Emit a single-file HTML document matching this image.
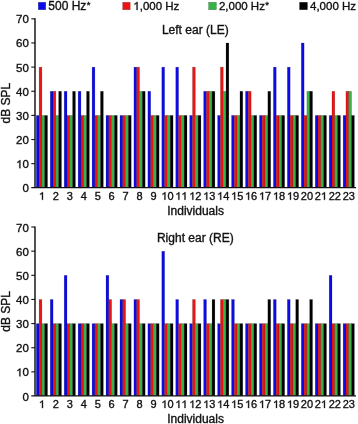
<!DOCTYPE html>
<html><head><meta charset="utf-8"><style>
html,body{margin:0;padding:0;background:#fff;width:358px;height:424px;overflow:hidden}
svg{display:block;will-change:transform;filter:blur(0.3px)}
text{font-family:"Liberation Sans",sans-serif;fill:#111;stroke:#111;stroke-width:0.35px}
.yl{font-size:11.5px}
.xl{font-size:11px}
.t12{font-size:12px}
.lg{font-size:11.5px}
.g1{fill:#111;stroke:#111;stroke-width:0.35px;vector-effect:non-scaling-stroke}
text{font-kerning:none}
.bar{stroke:#000;stroke-opacity:0.3;stroke-width:0.5px}
</style></head><body>
<svg width="358" height="424" viewBox="0 0 358 424">
<rect width="358" height="424" fill="#fff"/>

<rect x="38.25" y="2.25" width="7.5" height="7.5" fill="#0b0be8" class="bar"/>
<text x="48.3" y="9.9" class="lg" style="font-size:12px">500 Hz<tspan style="font-size:9.5px" dx="0.3" dy="-2.0">*</tspan></text>
<rect x="122.65" y="2.25" width="7.6" height="7.5" fill="#ec1313" class="bar"/>
<path d="M763 0H583V1147C540 1106 483 1065 413 1024C343 983 280 952 223 931V1105C323 1152 410 1209 485 1276C560 1343 613 1378 644 1409H763Z" transform="translate(133.30 9.90) scale(0.00562 -0.00562)" class="g1"/>
<text x="139.70" y="9.90" style="font-size:11.5px">,000 Hz</text>
<rect x="208.55" y="2.25" width="7.9" height="7.5" fill="#36b347" class="bar"/>
<text x="218.9" y="9.9" class="lg">2,000 Hz<tspan style="font-size:9.5px" dx="0.3" dy="-2.0">*</tspan></text>
<rect x="299.5" y="2.25" width="8.0" height="7.5" fill="#000000" class="bar"/>
<text x="310.0" y="9.9" class="lg">4,000 Hz</text>

<rect x="36.30" y="115.43" width="2.81" height="72.17" fill="#0b0be8" class="bar"/>
<rect x="39.10" y="67.15" width="2.81" height="120.45" fill="#ec1313" class="bar"/>
<rect x="41.91" y="115.43" width="2.81" height="72.17" fill="#36b347" class="bar"/>
<rect x="44.71" y="115.43" width="2.81" height="72.17" fill="#000000" class="bar"/>
<rect x="50.25" y="91.29" width="2.81" height="96.31" fill="#0b0be8" class="bar"/>
<rect x="53.05" y="91.29" width="2.81" height="96.31" fill="#ec1313" class="bar"/>
<rect x="55.86" y="115.43" width="2.81" height="72.17" fill="#36b347" class="bar"/>
<rect x="58.66" y="91.29" width="2.81" height="96.31" fill="#000000" class="bar"/>
<rect x="64.19" y="91.29" width="2.81" height="96.31" fill="#0b0be8" class="bar"/>
<rect x="67.00" y="115.43" width="2.81" height="72.17" fill="#ec1313" class="bar"/>
<rect x="69.80" y="115.43" width="2.81" height="72.17" fill="#36b347" class="bar"/>
<rect x="72.61" y="91.29" width="2.81" height="96.31" fill="#000000" class="bar"/>
<rect x="78.14" y="91.29" width="2.81" height="96.31" fill="#0b0be8" class="bar"/>
<rect x="80.95" y="115.43" width="2.81" height="72.17" fill="#ec1313" class="bar"/>
<rect x="83.75" y="115.43" width="2.81" height="72.17" fill="#36b347" class="bar"/>
<rect x="86.56" y="91.29" width="2.81" height="96.31" fill="#000000" class="bar"/>
<rect x="92.09" y="67.15" width="2.81" height="120.45" fill="#0b0be8" class="bar"/>
<rect x="94.89" y="115.43" width="2.81" height="72.17" fill="#ec1313" class="bar"/>
<rect x="97.70" y="115.43" width="2.81" height="72.17" fill="#36b347" class="bar"/>
<rect x="100.50" y="91.29" width="2.81" height="96.31" fill="#000000" class="bar"/>
<rect x="106.03" y="115.43" width="2.81" height="72.17" fill="#0b0be8" class="bar"/>
<rect x="108.84" y="115.43" width="2.81" height="72.17" fill="#ec1313" class="bar"/>
<rect x="111.64" y="115.43" width="2.81" height="72.17" fill="#36b347" class="bar"/>
<rect x="114.45" y="115.43" width="2.81" height="72.17" fill="#000000" class="bar"/>
<rect x="119.98" y="115.43" width="2.81" height="72.17" fill="#0b0be8" class="bar"/>
<rect x="122.79" y="115.43" width="2.81" height="72.17" fill="#ec1313" class="bar"/>
<rect x="125.59" y="115.43" width="2.81" height="72.17" fill="#36b347" class="bar"/>
<rect x="128.40" y="115.43" width="2.81" height="72.17" fill="#000000" class="bar"/>
<rect x="133.93" y="67.15" width="2.81" height="120.45" fill="#0b0be8" class="bar"/>
<rect x="136.73" y="67.15" width="2.81" height="120.45" fill="#ec1313" class="bar"/>
<rect x="139.54" y="91.29" width="2.81" height="96.31" fill="#36b347" class="bar"/>
<rect x="142.34" y="91.29" width="2.81" height="96.31" fill="#000000" class="bar"/>
<rect x="147.88" y="91.29" width="2.81" height="96.31" fill="#0b0be8" class="bar"/>
<rect x="150.68" y="115.43" width="2.81" height="72.17" fill="#ec1313" class="bar"/>
<rect x="153.49" y="115.43" width="2.81" height="72.17" fill="#36b347" class="bar"/>
<rect x="156.29" y="115.43" width="2.81" height="72.17" fill="#000000" class="bar"/>
<rect x="161.82" y="67.15" width="2.81" height="120.45" fill="#0b0be8" class="bar"/>
<rect x="164.63" y="115.43" width="2.81" height="72.17" fill="#ec1313" class="bar"/>
<rect x="167.43" y="115.43" width="2.81" height="72.17" fill="#36b347" class="bar"/>
<rect x="170.24" y="115.43" width="2.81" height="72.17" fill="#000000" class="bar"/>
<rect x="175.77" y="67.15" width="2.81" height="120.45" fill="#0b0be8" class="bar"/>
<rect x="178.57" y="115.43" width="2.81" height="72.17" fill="#ec1313" class="bar"/>
<rect x="181.38" y="115.43" width="2.81" height="72.17" fill="#36b347" class="bar"/>
<rect x="184.18" y="115.43" width="2.81" height="72.17" fill="#000000" class="bar"/>
<rect x="189.72" y="115.43" width="2.81" height="72.17" fill="#0b0be8" class="bar"/>
<rect x="192.52" y="67.15" width="2.81" height="120.45" fill="#ec1313" class="bar"/>
<rect x="195.33" y="115.43" width="2.81" height="72.17" fill="#36b347" class="bar"/>
<rect x="198.13" y="115.43" width="2.81" height="72.17" fill="#000000" class="bar"/>
<rect x="203.66" y="91.29" width="2.81" height="96.31" fill="#0b0be8" class="bar"/>
<rect x="206.47" y="91.29" width="2.81" height="96.31" fill="#ec1313" class="bar"/>
<rect x="209.27" y="91.29" width="2.81" height="96.31" fill="#36b347" class="bar"/>
<rect x="212.08" y="91.29" width="2.81" height="96.31" fill="#000000" class="bar"/>
<rect x="217.61" y="115.43" width="2.81" height="72.17" fill="#0b0be8" class="bar"/>
<rect x="220.42" y="67.15" width="2.81" height="120.45" fill="#ec1313" class="bar"/>
<rect x="223.22" y="91.29" width="2.81" height="96.31" fill="#36b347" class="bar"/>
<rect x="226.03" y="43.01" width="2.81" height="144.59" fill="#000000" class="bar"/>
<rect x="231.56" y="115.43" width="2.81" height="72.17" fill="#0b0be8" class="bar"/>
<rect x="234.36" y="115.43" width="2.81" height="72.17" fill="#ec1313" class="bar"/>
<rect x="237.17" y="115.43" width="2.81" height="72.17" fill="#36b347" class="bar"/>
<rect x="239.97" y="91.29" width="2.81" height="96.31" fill="#000000" class="bar"/>
<rect x="245.50" y="91.29" width="2.81" height="96.31" fill="#0b0be8" class="bar"/>
<rect x="248.31" y="91.29" width="2.81" height="96.31" fill="#ec1313" class="bar"/>
<rect x="251.12" y="115.43" width="2.81" height="72.17" fill="#36b347" class="bar"/>
<rect x="253.92" y="115.43" width="2.81" height="72.17" fill="#000000" class="bar"/>
<rect x="259.45" y="115.43" width="2.81" height="72.17" fill="#0b0be8" class="bar"/>
<rect x="262.26" y="115.43" width="2.81" height="72.17" fill="#ec1313" class="bar"/>
<rect x="265.06" y="115.43" width="2.81" height="72.17" fill="#36b347" class="bar"/>
<rect x="267.87" y="91.29" width="2.81" height="96.31" fill="#000000" class="bar"/>
<rect x="273.40" y="67.15" width="2.81" height="120.45" fill="#0b0be8" class="bar"/>
<rect x="276.20" y="115.43" width="2.81" height="72.17" fill="#ec1313" class="bar"/>
<rect x="279.01" y="115.43" width="2.81" height="72.17" fill="#36b347" class="bar"/>
<rect x="281.81" y="115.43" width="2.81" height="72.17" fill="#000000" class="bar"/>
<rect x="287.35" y="67.15" width="2.81" height="120.45" fill="#0b0be8" class="bar"/>
<rect x="290.15" y="115.43" width="2.81" height="72.17" fill="#ec1313" class="bar"/>
<rect x="292.96" y="115.43" width="2.81" height="72.17" fill="#36b347" class="bar"/>
<rect x="295.76" y="115.43" width="2.81" height="72.17" fill="#000000" class="bar"/>
<rect x="301.29" y="43.01" width="2.81" height="144.59" fill="#0b0be8" class="bar"/>
<rect x="304.10" y="115.43" width="2.81" height="72.17" fill="#ec1313" class="bar"/>
<rect x="306.90" y="91.29" width="2.81" height="96.31" fill="#36b347" class="bar"/>
<rect x="309.71" y="91.29" width="2.81" height="96.31" fill="#000000" class="bar"/>
<rect x="315.24" y="115.43" width="2.81" height="72.17" fill="#0b0be8" class="bar"/>
<rect x="318.05" y="115.43" width="2.81" height="72.17" fill="#ec1313" class="bar"/>
<rect x="320.85" y="115.43" width="2.81" height="72.17" fill="#36b347" class="bar"/>
<rect x="323.66" y="115.43" width="2.81" height="72.17" fill="#000000" class="bar"/>
<rect x="329.19" y="115.43" width="2.81" height="72.17" fill="#0b0be8" class="bar"/>
<rect x="331.99" y="91.29" width="2.81" height="96.31" fill="#ec1313" class="bar"/>
<rect x="334.80" y="115.43" width="2.81" height="72.17" fill="#36b347" class="bar"/>
<rect x="337.60" y="115.43" width="2.81" height="72.17" fill="#000000" class="bar"/>
<rect x="343.13" y="115.43" width="2.81" height="72.17" fill="#0b0be8" class="bar"/>
<rect x="345.94" y="91.29" width="2.81" height="96.31" fill="#ec1313" class="bar"/>
<rect x="348.74" y="91.29" width="2.81" height="96.31" fill="#36b347" class="bar"/>
<rect x="351.55" y="115.43" width="2.81" height="72.17" fill="#000000" class="bar"/>
<line x1="35.0" y1="18.22" x2="35.0" y2="187.60" stroke="#111" stroke-width="1.45"/>
<line x1="31.3" y1="187.60" x2="356" y2="187.60" stroke="#111" stroke-width="1.25"/>
<line x1="31.3" y1="163.66" x2="35.0" y2="163.66" stroke="#111" stroke-width="1.1"/>
<line x1="31.3" y1="139.52" x2="35.0" y2="139.52" stroke="#111" stroke-width="1.1"/>
<line x1="31.3" y1="115.38" x2="35.0" y2="115.38" stroke="#111" stroke-width="1.1"/>
<line x1="31.3" y1="91.24" x2="35.0" y2="91.24" stroke="#111" stroke-width="1.1"/>
<line x1="31.3" y1="67.10" x2="35.0" y2="67.10" stroke="#111" stroke-width="1.1"/>
<line x1="31.3" y1="42.96" x2="35.0" y2="42.96" stroke="#111" stroke-width="1.1"/>
<line x1="31.3" y1="18.82" x2="35.0" y2="18.82" stroke="#111" stroke-width="1.1"/>
<text x="22.50" y="192.30" style="font-size:11.5px">0</text>
<path d="M763 0H583V1147C540 1106 483 1065 413 1024C343 983 280 952 223 931V1105C323 1152 410 1209 485 1276C560 1343 613 1378 644 1409H763Z" transform="translate(16.11 168.16) scale(0.00562 -0.00562)" class="g1"/>
<text x="22.50" y="168.16" style="font-size:11.5px">0</text>
<text x="16.11" y="144.02" style="font-size:11.5px">20</text>
<text x="16.11" y="119.88" style="font-size:11.5px">30</text>
<text x="16.11" y="95.74" style="font-size:11.5px">40</text>
<text x="16.11" y="71.60" style="font-size:11.5px">50</text>
<text x="16.11" y="47.46" style="font-size:11.5px">60</text>
<text x="16.11" y="23.32" style="font-size:11.5px">70</text>
<path d="M763 0H583V1147C540 1106 483 1065 413 1024C343 983 280 952 223 931V1105C323 1152 410 1209 485 1276C560 1343 613 1378 644 1409H763Z" transform="translate(38.85 199.80) scale(0.00537 -0.00537)" class="g1"/>
<text x="52.80" y="199.80" style="font-size:11px">2</text>
<text x="66.75" y="199.80" style="font-size:11px">3</text>
<text x="80.69" y="199.80" style="font-size:11px">4</text>
<text x="94.64" y="199.80" style="font-size:11px">5</text>
<text x="108.59" y="199.80" style="font-size:11px">6</text>
<text x="122.53" y="199.80" style="font-size:11px">7</text>
<text x="136.48" y="199.80" style="font-size:11px">8</text>
<text x="150.43" y="199.80" style="font-size:11px">9</text>
<path d="M763 0H583V1147C540 1106 483 1065 413 1024C343 983 280 952 223 931V1105C323 1152 410 1209 485 1276C560 1343 613 1378 644 1409H763Z" transform="translate(161.32 199.80) scale(0.00537 -0.00537)" class="g1"/>
<text x="167.43" y="199.80" style="font-size:11px">0</text>
<path d="M763 0H583V1147C540 1106 483 1065 413 1024C343 983 280 952 223 931V1105C323 1152 410 1209 485 1276C560 1343 613 1378 644 1409H763Z" transform="translate(175.26 199.80) scale(0.00537 -0.00537)" class="g1"/>
<path d="M763 0H583V1147C540 1106 483 1065 413 1024C343 983 280 952 223 931V1105C323 1152 410 1209 485 1276C560 1343 613 1378 644 1409H763Z" transform="translate(181.38 199.80) scale(0.00537 -0.00537)" class="g1"/>
<path d="M763 0H583V1147C540 1106 483 1065 413 1024C343 983 280 952 223 931V1105C323 1152 410 1209 485 1276C560 1343 613 1378 644 1409H763Z" transform="translate(189.21 199.80) scale(0.00537 -0.00537)" class="g1"/>
<text x="195.33" y="199.80" style="font-size:11px">2</text>
<path d="M763 0H583V1147C540 1106 483 1065 413 1024C343 983 280 952 223 931V1105C323 1152 410 1209 485 1276C560 1343 613 1378 644 1409H763Z" transform="translate(203.16 199.80) scale(0.00537 -0.00537)" class="g1"/>
<text x="209.27" y="199.80" style="font-size:11px">3</text>
<path d="M763 0H583V1147C540 1106 483 1065 413 1024C343 983 280 952 223 931V1105C323 1152 410 1209 485 1276C560 1343 613 1378 644 1409H763Z" transform="translate(217.10 199.80) scale(0.00537 -0.00537)" class="g1"/>
<text x="223.22" y="199.80" style="font-size:11px">4</text>
<path d="M763 0H583V1147C540 1106 483 1065 413 1024C343 983 280 952 223 931V1105C323 1152 410 1209 485 1276C560 1343 613 1378 644 1409H763Z" transform="translate(231.05 199.80) scale(0.00537 -0.00537)" class="g1"/>
<text x="237.17" y="199.80" style="font-size:11px">5</text>
<path d="M763 0H583V1147C540 1106 483 1065 413 1024C343 983 280 952 223 931V1105C323 1152 410 1209 485 1276C560 1343 613 1378 644 1409H763Z" transform="translate(245.00 199.80) scale(0.00537 -0.00537)" class="g1"/>
<text x="251.12" y="199.80" style="font-size:11px">6</text>
<path d="M763 0H583V1147C540 1106 483 1065 413 1024C343 983 280 952 223 931V1105C323 1152 410 1209 485 1276C560 1343 613 1378 644 1409H763Z" transform="translate(258.94 199.80) scale(0.00537 -0.00537)" class="g1"/>
<text x="265.06" y="199.80" style="font-size:11px">7</text>
<path d="M763 0H583V1147C540 1106 483 1065 413 1024C343 983 280 952 223 931V1105C323 1152 410 1209 485 1276C560 1343 613 1378 644 1409H763Z" transform="translate(272.89 199.80) scale(0.00537 -0.00537)" class="g1"/>
<text x="279.01" y="199.80" style="font-size:11px">8</text>
<path d="M763 0H583V1147C540 1106 483 1065 413 1024C343 983 280 952 223 931V1105C323 1152 410 1209 485 1276C560 1343 613 1378 644 1409H763Z" transform="translate(286.84 199.80) scale(0.00537 -0.00537)" class="g1"/>
<text x="292.96" y="199.80" style="font-size:11px">9</text>
<text x="300.79" y="199.80" style="font-size:11px">20</text>
<text x="314.73" y="199.80" style="font-size:11px">2</text>
<path d="M763 0H583V1147C540 1106 483 1065 413 1024C343 983 280 952 223 931V1105C323 1152 410 1209 485 1276C560 1343 613 1378 644 1409H763Z" transform="translate(320.85 199.80) scale(0.00537 -0.00537)" class="g1"/>
<text x="328.68" y="199.80" style="font-size:11px">22</text>
<text x="342.63" y="199.80" style="font-size:11px">23</text>
<text x="195.6" y="215.20" text-anchor="middle" class="t12">Individuals</text>
<text transform="translate(10.0 103.11) rotate(-90)" x="0" y="0" text-anchor="middle" class="t12">dB SPL</text>
<text x="195.3" y="33.70" text-anchor="middle" class="t12">Left ear (LE)</text>
<rect x="36.30" y="323.63" width="2.81" height="72.17" fill="#0b0be8" class="bar"/>
<rect x="39.10" y="299.49" width="2.81" height="96.31" fill="#ec1313" class="bar"/>
<rect x="41.91" y="323.63" width="2.81" height="72.17" fill="#36b347" class="bar"/>
<rect x="44.71" y="323.63" width="2.81" height="72.17" fill="#000000" class="bar"/>
<rect x="50.25" y="299.49" width="2.81" height="96.31" fill="#0b0be8" class="bar"/>
<rect x="53.05" y="323.63" width="2.81" height="72.17" fill="#ec1313" class="bar"/>
<rect x="55.86" y="323.63" width="2.81" height="72.17" fill="#36b347" class="bar"/>
<rect x="58.66" y="323.63" width="2.81" height="72.17" fill="#000000" class="bar"/>
<rect x="64.19" y="275.35" width="2.81" height="120.45" fill="#0b0be8" class="bar"/>
<rect x="67.00" y="323.63" width="2.81" height="72.17" fill="#ec1313" class="bar"/>
<rect x="69.80" y="323.63" width="2.81" height="72.17" fill="#36b347" class="bar"/>
<rect x="72.61" y="323.63" width="2.81" height="72.17" fill="#000000" class="bar"/>
<rect x="78.14" y="323.63" width="2.81" height="72.17" fill="#0b0be8" class="bar"/>
<rect x="80.95" y="323.63" width="2.81" height="72.17" fill="#ec1313" class="bar"/>
<rect x="83.75" y="323.63" width="2.81" height="72.17" fill="#36b347" class="bar"/>
<rect x="86.56" y="323.63" width="2.81" height="72.17" fill="#000000" class="bar"/>
<rect x="92.09" y="323.63" width="2.81" height="72.17" fill="#0b0be8" class="bar"/>
<rect x="94.89" y="323.63" width="2.81" height="72.17" fill="#ec1313" class="bar"/>
<rect x="97.70" y="323.63" width="2.81" height="72.17" fill="#36b347" class="bar"/>
<rect x="100.50" y="323.63" width="2.81" height="72.17" fill="#000000" class="bar"/>
<rect x="106.03" y="275.35" width="2.81" height="120.45" fill="#0b0be8" class="bar"/>
<rect x="108.84" y="299.49" width="2.81" height="96.31" fill="#ec1313" class="bar"/>
<rect x="111.64" y="323.63" width="2.81" height="72.17" fill="#36b347" class="bar"/>
<rect x="114.45" y="323.63" width="2.81" height="72.17" fill="#000000" class="bar"/>
<rect x="119.98" y="299.49" width="2.81" height="96.31" fill="#0b0be8" class="bar"/>
<rect x="122.79" y="299.49" width="2.81" height="96.31" fill="#ec1313" class="bar"/>
<rect x="125.59" y="323.63" width="2.81" height="72.17" fill="#36b347" class="bar"/>
<rect x="128.40" y="323.63" width="2.81" height="72.17" fill="#000000" class="bar"/>
<rect x="133.93" y="299.49" width="2.81" height="96.31" fill="#0b0be8" class="bar"/>
<rect x="136.73" y="299.49" width="2.81" height="96.31" fill="#ec1313" class="bar"/>
<rect x="139.54" y="323.63" width="2.81" height="72.17" fill="#36b347" class="bar"/>
<rect x="142.34" y="323.63" width="2.81" height="72.17" fill="#000000" class="bar"/>
<rect x="147.88" y="323.63" width="2.81" height="72.17" fill="#0b0be8" class="bar"/>
<rect x="150.68" y="323.63" width="2.81" height="72.17" fill="#ec1313" class="bar"/>
<rect x="153.49" y="323.63" width="2.81" height="72.17" fill="#36b347" class="bar"/>
<rect x="156.29" y="323.63" width="2.81" height="72.17" fill="#000000" class="bar"/>
<rect x="161.82" y="251.21" width="2.81" height="144.59" fill="#0b0be8" class="bar"/>
<rect x="164.63" y="323.63" width="2.81" height="72.17" fill="#ec1313" class="bar"/>
<rect x="167.43" y="323.63" width="2.81" height="72.17" fill="#36b347" class="bar"/>
<rect x="170.24" y="323.63" width="2.81" height="72.17" fill="#000000" class="bar"/>
<rect x="175.77" y="299.49" width="2.81" height="96.31" fill="#0b0be8" class="bar"/>
<rect x="178.57" y="323.63" width="2.81" height="72.17" fill="#ec1313" class="bar"/>
<rect x="181.38" y="323.63" width="2.81" height="72.17" fill="#36b347" class="bar"/>
<rect x="184.18" y="323.63" width="2.81" height="72.17" fill="#000000" class="bar"/>
<rect x="189.72" y="323.63" width="2.81" height="72.17" fill="#0b0be8" class="bar"/>
<rect x="192.52" y="299.49" width="2.81" height="96.31" fill="#ec1313" class="bar"/>
<rect x="195.33" y="323.63" width="2.81" height="72.17" fill="#36b347" class="bar"/>
<rect x="198.13" y="323.63" width="2.81" height="72.17" fill="#000000" class="bar"/>
<rect x="203.66" y="299.49" width="2.81" height="96.31" fill="#0b0be8" class="bar"/>
<rect x="206.47" y="323.63" width="2.81" height="72.17" fill="#ec1313" class="bar"/>
<rect x="209.27" y="323.63" width="2.81" height="72.17" fill="#36b347" class="bar"/>
<rect x="212.08" y="299.49" width="2.81" height="96.31" fill="#000000" class="bar"/>
<rect x="217.61" y="323.63" width="2.81" height="72.17" fill="#0b0be8" class="bar"/>
<rect x="220.42" y="299.49" width="2.81" height="96.31" fill="#ec1313" class="bar"/>
<rect x="223.22" y="299.49" width="2.81" height="96.31" fill="#36b347" class="bar"/>
<rect x="226.03" y="299.49" width="2.81" height="96.31" fill="#000000" class="bar"/>
<rect x="231.56" y="299.49" width="2.81" height="96.31" fill="#0b0be8" class="bar"/>
<rect x="234.36" y="323.63" width="2.81" height="72.17" fill="#ec1313" class="bar"/>
<rect x="237.17" y="323.63" width="2.81" height="72.17" fill="#36b347" class="bar"/>
<rect x="239.97" y="323.63" width="2.81" height="72.17" fill="#000000" class="bar"/>
<rect x="245.50" y="323.63" width="2.81" height="72.17" fill="#0b0be8" class="bar"/>
<rect x="248.31" y="323.63" width="2.81" height="72.17" fill="#ec1313" class="bar"/>
<rect x="251.12" y="323.63" width="2.81" height="72.17" fill="#36b347" class="bar"/>
<rect x="253.92" y="323.63" width="2.81" height="72.17" fill="#000000" class="bar"/>
<rect x="259.45" y="323.63" width="2.81" height="72.17" fill="#0b0be8" class="bar"/>
<rect x="262.26" y="323.63" width="2.81" height="72.17" fill="#ec1313" class="bar"/>
<rect x="265.06" y="323.63" width="2.81" height="72.17" fill="#36b347" class="bar"/>
<rect x="267.87" y="299.49" width="2.81" height="96.31" fill="#000000" class="bar"/>
<rect x="273.40" y="299.49" width="2.81" height="96.31" fill="#0b0be8" class="bar"/>
<rect x="276.20" y="323.63" width="2.81" height="72.17" fill="#ec1313" class="bar"/>
<rect x="279.01" y="323.63" width="2.81" height="72.17" fill="#36b347" class="bar"/>
<rect x="281.81" y="323.63" width="2.81" height="72.17" fill="#000000" class="bar"/>
<rect x="287.35" y="299.49" width="2.81" height="96.31" fill="#0b0be8" class="bar"/>
<rect x="290.15" y="323.63" width="2.81" height="72.17" fill="#ec1313" class="bar"/>
<rect x="292.96" y="323.63" width="2.81" height="72.17" fill="#36b347" class="bar"/>
<rect x="295.76" y="299.49" width="2.81" height="96.31" fill="#000000" class="bar"/>
<rect x="301.29" y="323.63" width="2.81" height="72.17" fill="#0b0be8" class="bar"/>
<rect x="304.10" y="323.63" width="2.81" height="72.17" fill="#ec1313" class="bar"/>
<rect x="306.90" y="323.63" width="2.81" height="72.17" fill="#36b347" class="bar"/>
<rect x="309.71" y="299.49" width="2.81" height="96.31" fill="#000000" class="bar"/>
<rect x="315.24" y="323.63" width="2.81" height="72.17" fill="#0b0be8" class="bar"/>
<rect x="318.05" y="323.63" width="2.81" height="72.17" fill="#ec1313" class="bar"/>
<rect x="320.85" y="323.63" width="2.81" height="72.17" fill="#36b347" class="bar"/>
<rect x="323.66" y="323.63" width="2.81" height="72.17" fill="#000000" class="bar"/>
<rect x="329.19" y="275.35" width="2.81" height="120.45" fill="#0b0be8" class="bar"/>
<rect x="331.99" y="323.63" width="2.81" height="72.17" fill="#ec1313" class="bar"/>
<rect x="334.80" y="323.63" width="2.81" height="72.17" fill="#36b347" class="bar"/>
<rect x="337.60" y="323.63" width="2.81" height="72.17" fill="#000000" class="bar"/>
<rect x="343.13" y="323.63" width="2.81" height="72.17" fill="#0b0be8" class="bar"/>
<rect x="345.94" y="323.63" width="2.81" height="72.17" fill="#ec1313" class="bar"/>
<rect x="348.74" y="323.63" width="2.81" height="72.17" fill="#36b347" class="bar"/>
<rect x="351.55" y="323.63" width="2.81" height="72.17" fill="#000000" class="bar"/>
<line x1="35.0" y1="226.42" x2="35.0" y2="395.80" stroke="#111" stroke-width="1.45"/>
<line x1="31.3" y1="395.80" x2="356" y2="395.80" stroke="#111" stroke-width="1.25"/>
<line x1="31.3" y1="371.86" x2="35.0" y2="371.86" stroke="#111" stroke-width="1.1"/>
<line x1="31.3" y1="347.72" x2="35.0" y2="347.72" stroke="#111" stroke-width="1.1"/>
<line x1="31.3" y1="323.58" x2="35.0" y2="323.58" stroke="#111" stroke-width="1.1"/>
<line x1="31.3" y1="299.44" x2="35.0" y2="299.44" stroke="#111" stroke-width="1.1"/>
<line x1="31.3" y1="275.30" x2="35.0" y2="275.30" stroke="#111" stroke-width="1.1"/>
<line x1="31.3" y1="251.16" x2="35.0" y2="251.16" stroke="#111" stroke-width="1.1"/>
<line x1="31.3" y1="227.02" x2="35.0" y2="227.02" stroke="#111" stroke-width="1.1"/>
<text x="22.50" y="400.50" style="font-size:11.5px">0</text>
<path d="M763 0H583V1147C540 1106 483 1065 413 1024C343 983 280 952 223 931V1105C323 1152 410 1209 485 1276C560 1343 613 1378 644 1409H763Z" transform="translate(16.11 376.36) scale(0.00562 -0.00562)" class="g1"/>
<text x="22.50" y="376.36" style="font-size:11.5px">0</text>
<text x="16.11" y="352.22" style="font-size:11.5px">20</text>
<text x="16.11" y="328.08" style="font-size:11.5px">30</text>
<text x="16.11" y="303.94" style="font-size:11.5px">40</text>
<text x="16.11" y="279.80" style="font-size:11.5px">50</text>
<text x="16.11" y="255.66" style="font-size:11.5px">60</text>
<text x="16.11" y="231.52" style="font-size:11.5px">70</text>
<path d="M763 0H583V1147C540 1106 483 1065 413 1024C343 983 280 952 223 931V1105C323 1152 410 1209 485 1276C560 1343 613 1378 644 1409H763Z" transform="translate(38.85 408.00) scale(0.00537 -0.00537)" class="g1"/>
<text x="52.80" y="408.00" style="font-size:11px">2</text>
<text x="66.75" y="408.00" style="font-size:11px">3</text>
<text x="80.69" y="408.00" style="font-size:11px">4</text>
<text x="94.64" y="408.00" style="font-size:11px">5</text>
<text x="108.59" y="408.00" style="font-size:11px">6</text>
<text x="122.53" y="408.00" style="font-size:11px">7</text>
<text x="136.48" y="408.00" style="font-size:11px">8</text>
<text x="150.43" y="408.00" style="font-size:11px">9</text>
<path d="M763 0H583V1147C540 1106 483 1065 413 1024C343 983 280 952 223 931V1105C323 1152 410 1209 485 1276C560 1343 613 1378 644 1409H763Z" transform="translate(161.32 408.00) scale(0.00537 -0.00537)" class="g1"/>
<text x="167.43" y="408.00" style="font-size:11px">0</text>
<path d="M763 0H583V1147C540 1106 483 1065 413 1024C343 983 280 952 223 931V1105C323 1152 410 1209 485 1276C560 1343 613 1378 644 1409H763Z" transform="translate(175.26 408.00) scale(0.00537 -0.00537)" class="g1"/>
<path d="M763 0H583V1147C540 1106 483 1065 413 1024C343 983 280 952 223 931V1105C323 1152 410 1209 485 1276C560 1343 613 1378 644 1409H763Z" transform="translate(181.38 408.00) scale(0.00537 -0.00537)" class="g1"/>
<path d="M763 0H583V1147C540 1106 483 1065 413 1024C343 983 280 952 223 931V1105C323 1152 410 1209 485 1276C560 1343 613 1378 644 1409H763Z" transform="translate(189.21 408.00) scale(0.00537 -0.00537)" class="g1"/>
<text x="195.33" y="408.00" style="font-size:11px">2</text>
<path d="M763 0H583V1147C540 1106 483 1065 413 1024C343 983 280 952 223 931V1105C323 1152 410 1209 485 1276C560 1343 613 1378 644 1409H763Z" transform="translate(203.16 408.00) scale(0.00537 -0.00537)" class="g1"/>
<text x="209.27" y="408.00" style="font-size:11px">3</text>
<path d="M763 0H583V1147C540 1106 483 1065 413 1024C343 983 280 952 223 931V1105C323 1152 410 1209 485 1276C560 1343 613 1378 644 1409H763Z" transform="translate(217.10 408.00) scale(0.00537 -0.00537)" class="g1"/>
<text x="223.22" y="408.00" style="font-size:11px">4</text>
<path d="M763 0H583V1147C540 1106 483 1065 413 1024C343 983 280 952 223 931V1105C323 1152 410 1209 485 1276C560 1343 613 1378 644 1409H763Z" transform="translate(231.05 408.00) scale(0.00537 -0.00537)" class="g1"/>
<text x="237.17" y="408.00" style="font-size:11px">5</text>
<path d="M763 0H583V1147C540 1106 483 1065 413 1024C343 983 280 952 223 931V1105C323 1152 410 1209 485 1276C560 1343 613 1378 644 1409H763Z" transform="translate(245.00 408.00) scale(0.00537 -0.00537)" class="g1"/>
<text x="251.12" y="408.00" style="font-size:11px">6</text>
<path d="M763 0H583V1147C540 1106 483 1065 413 1024C343 983 280 952 223 931V1105C323 1152 410 1209 485 1276C560 1343 613 1378 644 1409H763Z" transform="translate(258.94 408.00) scale(0.00537 -0.00537)" class="g1"/>
<text x="265.06" y="408.00" style="font-size:11px">7</text>
<path d="M763 0H583V1147C540 1106 483 1065 413 1024C343 983 280 952 223 931V1105C323 1152 410 1209 485 1276C560 1343 613 1378 644 1409H763Z" transform="translate(272.89 408.00) scale(0.00537 -0.00537)" class="g1"/>
<text x="279.01" y="408.00" style="font-size:11px">8</text>
<path d="M763 0H583V1147C540 1106 483 1065 413 1024C343 983 280 952 223 931V1105C323 1152 410 1209 485 1276C560 1343 613 1378 644 1409H763Z" transform="translate(286.84 408.00) scale(0.00537 -0.00537)" class="g1"/>
<text x="292.96" y="408.00" style="font-size:11px">9</text>
<text x="300.79" y="408.00" style="font-size:11px">20</text>
<text x="314.73" y="408.00" style="font-size:11px">2</text>
<path d="M763 0H583V1147C540 1106 483 1065 413 1024C343 983 280 952 223 931V1105C323 1152 410 1209 485 1276C560 1343 613 1378 644 1409H763Z" transform="translate(320.85 408.00) scale(0.00537 -0.00537)" class="g1"/>
<text x="328.68" y="408.00" style="font-size:11px">22</text>
<text x="342.63" y="408.00" style="font-size:11px">23</text>
<text x="195.6" y="423.40" text-anchor="middle" class="t12">Individuals</text>
<text transform="translate(10.0 311.31) rotate(-90)" x="0" y="0" text-anchor="middle" class="t12">dB SPL</text>
<text x="195.3" y="242.30" text-anchor="middle" class="t12">Right ear (RE)</text>
</svg>
</body></html>
